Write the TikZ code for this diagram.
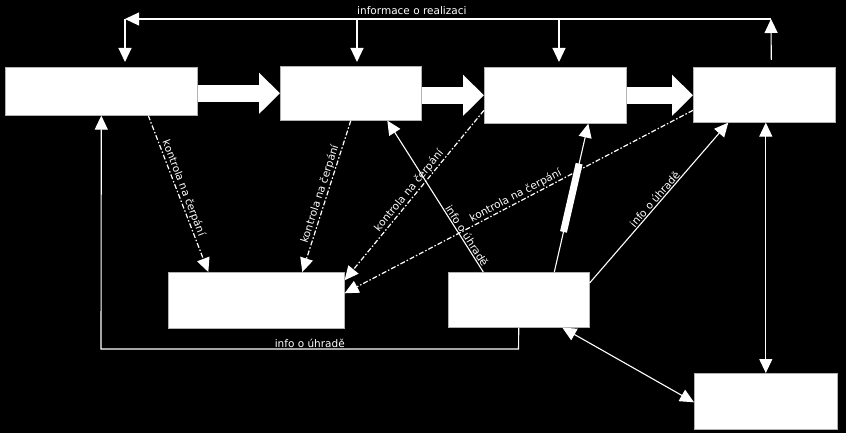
\documentclass[tikz,border=0pt]{standalone}
\usepackage{fontspec}
\setmainfont{DejaVu Sans}
\usetikzlibrary{arrows.meta,calc}
\begin{document}
\begin{tikzpicture}[x=1pt,y=-1pt,
  box/.style={fill=white, draw=gray!60, line width=0.6pt, inner sep=0pt, anchor=north west},
  arr/.style={white, line width=1.1pt, -{Triangle[length=14pt,width=13pt]}},
  darr/.style={white, line width=1.1pt, {Triangle[length=14pt,width=13pt]}-{Triangle[length=14pt,width=13pt]}},
  dd/.style={white, line width=1.2pt, dash pattern=on 5pt off 2pt on 1.5pt off 2pt, -{Triangle[length=14pt,width=13pt]}},
  blockarr/.style={white, line width=17pt, -{Triangle[length=21pt,width=40pt]}},
  lbl/.style={text=white, font=\fontsize{10.5}{12}\selectfont, inner sep=1pt}
]
\fill[black] (0,0) rectangle (846,433);
\useasboundingbox (0,0) rectangle (846,433);

% boxes
\node[box, minimum width=192pt, minimum height=48pt] (A) at (5,67) {};
\node[box, minimum width=141pt, minimum height=54pt] (B) at (280,66) {};
\node[box, minimum width=142pt, minimum height=56pt] (C) at (484,67) {};
\node[box, minimum width=142pt, minimum height=55pt] (D) at (693,67) {};
\node[box, minimum width=176pt, minimum height=56pt] (E) at (168,272) {};
\node[box, minimum width=141pt, minimum height=55pt] (F) at (448,272) {};
\node[box, minimum width=143pt, minimum height=56pt] (G) at (694,373) {};

% block arrows
\draw[blockarr] (A.east |- B.west) -- (B.west);
\draw[blockarr] (B.east |- C.west) -- (C.west);
\draw[blockarr] (C.east) -- (C.east -| D.west);

% top feedback line
\coordinate (tr) at (771,19);
\coordinate (tl) at (125,19);
\coordinate (t2) at (357,19);
\coordinate (t3) at (559,19);
\draw[arr] ([xshift=7pt,yshift=7pt]D.north) -- (tr);
\draw[arr] (tr) -- node[lbl, above=3pt, pos=0.556] {informace o realizaci} (tl);
\draw[arr, shorten >=5pt] (tl) -- (tl |- A.north);
\draw[arr, shorten >=4pt] (t2) -- (t2 |- B.north);
\draw[arr, shorten >=5pt] (t3) -- (t3 |- C.north);

% kontrola na cerpani
\draw[dd] ([xshift=47pt]A.south) -- node[lbl, sloped, above, pos=0.48] {kontrola na čerpání} ([xshift=-48pt]E.north);
\draw[dd] (B.south) -- node[lbl, sloped, above, pos=0.5] {kontrola na čerpání} ([xshift=46pt]E.north);
\draw[dd] ([yshift=-15pt]C.west) -- node[lbl, sloped, above, pos=0.5] {kontrola na čerpání} ([yshift=20pt]E.east);
\draw[dd] ([yshift=-15.5pt]D.west) -- node[lbl, sloped, above, pos=0.5] {kontrola na čerpání} ([yshift=7pt]E.east);

% info o uhrade
\draw[arr] ([xshift=-35.5pt]F.north) -- node[lbl, sloped, above, pos=0.22] {info o úhradě} ([xshift=36.5pt]B.south);
\coordinate (f6) at ([xshift=35.5pt]F.north);
\coordinate (c6) at ([xshift=33pt]C.south);
\draw[arr] (f6) -- (c6);
\draw[white, line width=7pt] ($(f6)!0.27!(c6)$) -- ($(f6)!0.73!(c6)$);
\draw[arr] ([yshift=-11pt]F.north east) -- node[lbl, sloped, above, pos=0.5] {info o úhradě} ([xshift=-36pt]D.south);

% double arrows
\draw[darr] (G.north) -- (G.north |- D.south);
\draw[darr] ([xshift=43.5pt]F.south) -- ([yshift=-1pt]G.west);

% bottom return line
\coordinate (b1) at (518.5,349);
\coordinate (b2) at (101,349);
\draw[arr] (F.south) -- (b1) -- node[lbl, above, pos=0.5] {info o úhradě} (b2) -- (A.south);
\end{tikzpicture}
\end{document}
